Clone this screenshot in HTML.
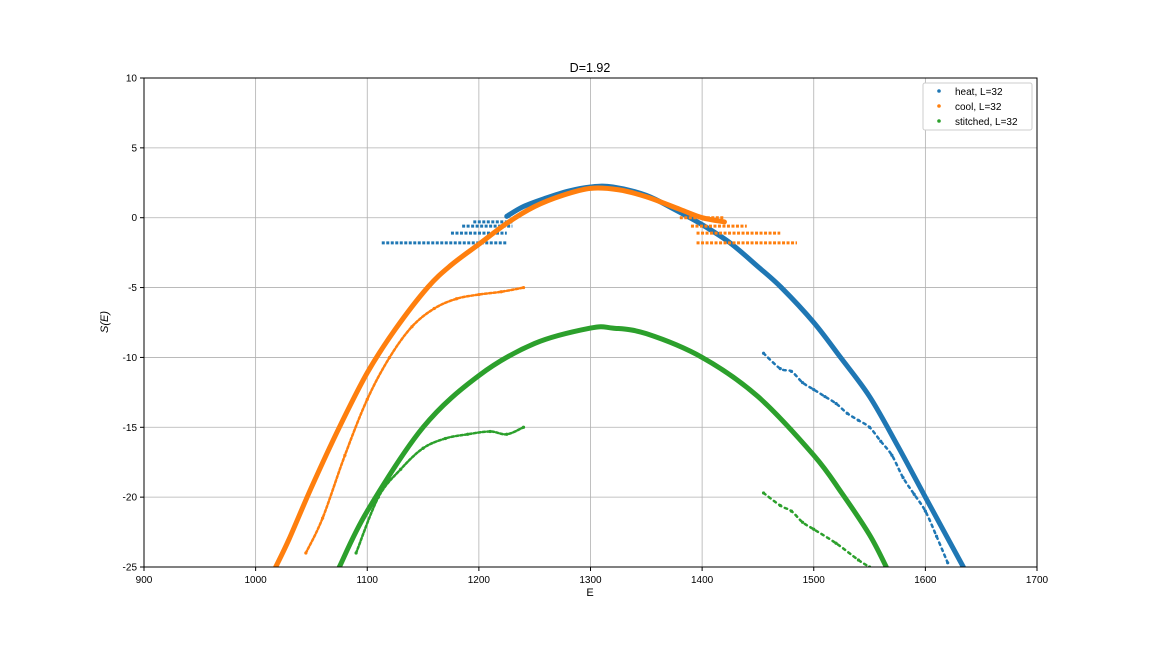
<!DOCTYPE html>
<html><head><meta charset="utf-8"><style>
body{margin:0;background:#fff;}
svg{display:block;font-family:"Liberation Sans","DejaVu Sans",sans-serif;}
</style></head><body>
<svg id="chart" width="1152" height="648" viewBox="0 0 1152 648" xmlns="http://www.w3.org/2000/svg">
<rect width="1152" height="648" fill="#fff"/>
<g id="grid"></g><g id="marks"></g><g id="axes"></g>
<text x="590" y="72" font-size="12.5" text-anchor="middle">D=1.92</text>
<text x="590" y="596" font-size="11" text-anchor="middle">E</text>
<text x="108" y="322" font-size="11" text-anchor="middle" transform="rotate(-90 108 322)" font-style="italic">S(E)</text>
<g>
<rect x="923" y="83" width="109" height="47" fill="#fff" stroke="#ccc" rx="2"/>
<circle cx="939" cy="91" r="1.8" fill="#1f77b4"/><text x="955" y="95" font-size="10">heat, L=32</text>
<circle cx="939" cy="106" r="1.8" fill="#ff7f0e"/><text x="955" y="110" font-size="10">cool, L=32</text>
<circle cx="939" cy="121" r="1.8" fill="#2ca02c"/><text x="955" y="125" font-size="10">stitched, L=32</text>
</g>
</svg>
<script>
const xTicks=[900,1000,1100,1200,1300,1400,1500,1600,1700];
const yTicks=[10,5,0,-5,-10,-15,-20,-25];
const heatE=[1225,1240,1260,1280,1300,1320,1350,1375,1400,1425,1450,1471,1500,1524,1550,1575,1600,1634];
const heatS=[0.1,0.8,1.4,1.9,2.2,2.2,1.6,0.6,-0.5,-1.8,-3.5,-5,-7.5,-10,-12.8,-16.3,-20,-25];
const heatTailE=[1455,1470,1480,1490,1500,1510,1520,1530,1540,1550,1560,1570,1580,1590,1600,1610,1620];
const heatTailS=[-9.7,-10.8,-11,-11.8,-12.3,-12.8,-13.3,-14,-14.5,-15,-16,-17,-18.6,-19.8,-21,-22.8,-24.7];
const heatStepS=[-1.8,-1.1,-0.6,-0.3];
const heatStepFrom=[1113,1175,1185,1195];
const heatStepTo=[1225,1225,1230,1230];
const coolE=[1018,1030,1050,1075,1100,1125,1154,1175,1200,1225,1250,1275,1300,1325,1350,1380,1400,1420];
const coolS=[-25,-23,-19.3,-15,-11.1,-8,-5,-3.4,-1.9,-0.4,0.8,1.6,2.1,2,1.5,0.6,0,-0.3];
const coolBranchE=[1045,1060,1080,1100,1120,1140,1160,1180,1200,1220,1240];
const coolBranchS=[-24,-21.5,-17,-13,-10,-7.8,-6.5,-5.8,-5.5,-5.3,-5];
const coolStepS=[-1.8,-1.1,-0.6,0];
const coolStepFrom=[1395,1395,1390,1380];
const coolStepTo=[1485,1470,1440,1420];
const stitchE=[1075,1100,1150,1200,1250,1300,1320,1350,1400,1450,1500,1525,1550,1565];
const stitchS=[-25,-21,-15,-11.3,-9,-7.9,-7.9,-8.3,-10,-12.8,-17,-19.7,-22.7,-25];
const stitchBranchE=[1090,1110,1130,1150,1170,1190,1210,1225,1240];
const stitchBranchS=[-24,-20,-18,-16.5,-15.8,-15.5,-15.3,-15.5,-15];
const stitchTailE=[1455,1470,1480,1490,1500,1520,1540,1550];
const stitchTailS=[-19.7,-20.6,-21,-21.8,-22.3,-23.3,-24.5,-25];

const X0=144,X1=1037,Y0=78,Y1=567;
const xs=v=>X0+(v-900)/800*(X1-X0);
const ys=v=>Y0+(10-v)/35*(Y1-Y0);
const NS="http://www.w3.org/2000/svg";
function mk(tag,attrs,parent){const e=document.createElementNS(NS,tag);for(const k in attrs)e.setAttribute(k,attrs[k]);parent.appendChild(e);return e;}
const grid=document.getElementById('grid'),axes=document.getElementById('axes'),marks=document.getElementById('marks');
xTicks.forEach(t=>{
 const l=mk('line',{x1:xs(t),x2:xs(t),y1:Y0,y2:Y1,stroke:'#b0b0b0','stroke-width':0.8},grid);
 
 
 mk('line',{x1:xs(t),x2:xs(t),y1:Y1,y2:Y1+4,stroke:'#000'},axes);
 const tx=mk('text',{x:xs(t),y:Y1+16,'font-size':10,'text-anchor':'middle'},axes);tx.textContent=t;
 
 
});
yTicks.forEach(t=>{
 const l=mk('line',{x1:X0,x2:X1,y1:ys(t),y2:ys(t),stroke:'#b0b0b0','stroke-width':0.8},grid);
 
 
 mk('line',{x1:X0-4,x2:X0,y1:ys(t),y2:ys(t),stroke:'#000'},axes);
 const tx=mk('text',{x:X0-7,y:ys(t)+3.5,'font-size':10,'text-anchor':'end'},axes);tx.textContent=t;
 
 
});
const fr=mk('rect',{x:X0,y:Y0,width:X1-X0,height:Y1-Y0,fill:'none',stroke:'#000','stroke-width':1},axes);


const clip=mk('clipPath',{id:'pc'},marks);mk('rect',{x:X0,y:Y0,width:X1-X0,height:Y1-Y0},clip);
const g=mk('g',{'clip-path':'url(#pc)'},marks);
function smoothPath(P){
 let d='M'+P[0][0]+','+P[0][1];
 for(let i=0;i<P.length-1;i++){
  const p0=P[Math.max(0,i-1)],p1=P[i],p2=P[i+1],p3=P[Math.min(P.length-1,i+2)];
  const c1x=p1[0]+(p2[0]-p0[0])/6,c1y=p1[1]+(p2[1]-p0[1])/6;
  const c2x=p2[0]-(p3[0]-p1[0])/6,c2y=p2[1]-(p3[1]-p1[1])/6;
  d+=' C'+c1x+','+c1y+' '+c2x+','+c2y+' '+p2[0]+','+p2[1];
 }
 return d;
}
function series(E,S,color,w,name,dash){
 const P=E.map((e,i)=>[xs(e),ys(S[i])]);
 const attrs={d:smoothPath(P),fill:'none',stroke:color,'stroke-width':w,'stroke-linecap':'round'};
 if(dash)attrs['stroke-dasharray']=dash;
 const p=mk('path',attrs,g);
 
 
 E.forEach((e,i)=>{const c=mk('circle',{cx:xs(e),cy:ys(S[i]),r:1.6,fill:color},g);
  
  });
}
function steps(S,F,T,color,name){
 S.forEach((s,i)=>{const l=mk('line',{x1:xs(F[i]),x2:xs(T[i]),y1:ys(s),y2:ys(s),stroke:color,'stroke-width':3,'stroke-dasharray':'3 1.5'},g);
  
  });
}
series(heatE,heatS,'#1f77b4',5,'heat-curve');
series(heatTailE,heatTailS,'#1f77b4',2.5,'heat-tail','2.5 4');
steps(heatStepS,heatStepFrom,heatStepTo,'#1f77b4','heat-step');
series(coolE,coolS,'#ff7f0e',5,'cool-curve');
series(coolBranchE,coolBranchS,'#ff7f0e',2.5,'cool-branch','2.5 2');
steps(coolStepS,coolStepFrom,coolStepTo,'#ff7f0e','cool-step');
series(stitchE,stitchS,'#2ca02c',5,'stitched-curve');
series(stitchBranchE,stitchBranchS,'#2ca02c',2.5,'stitched-branch','2.5 2');
series(stitchTailE,stitchTailS,'#2ca02c',2.5,'stitched-tail','2.5 4');
</script>
</body></html>
